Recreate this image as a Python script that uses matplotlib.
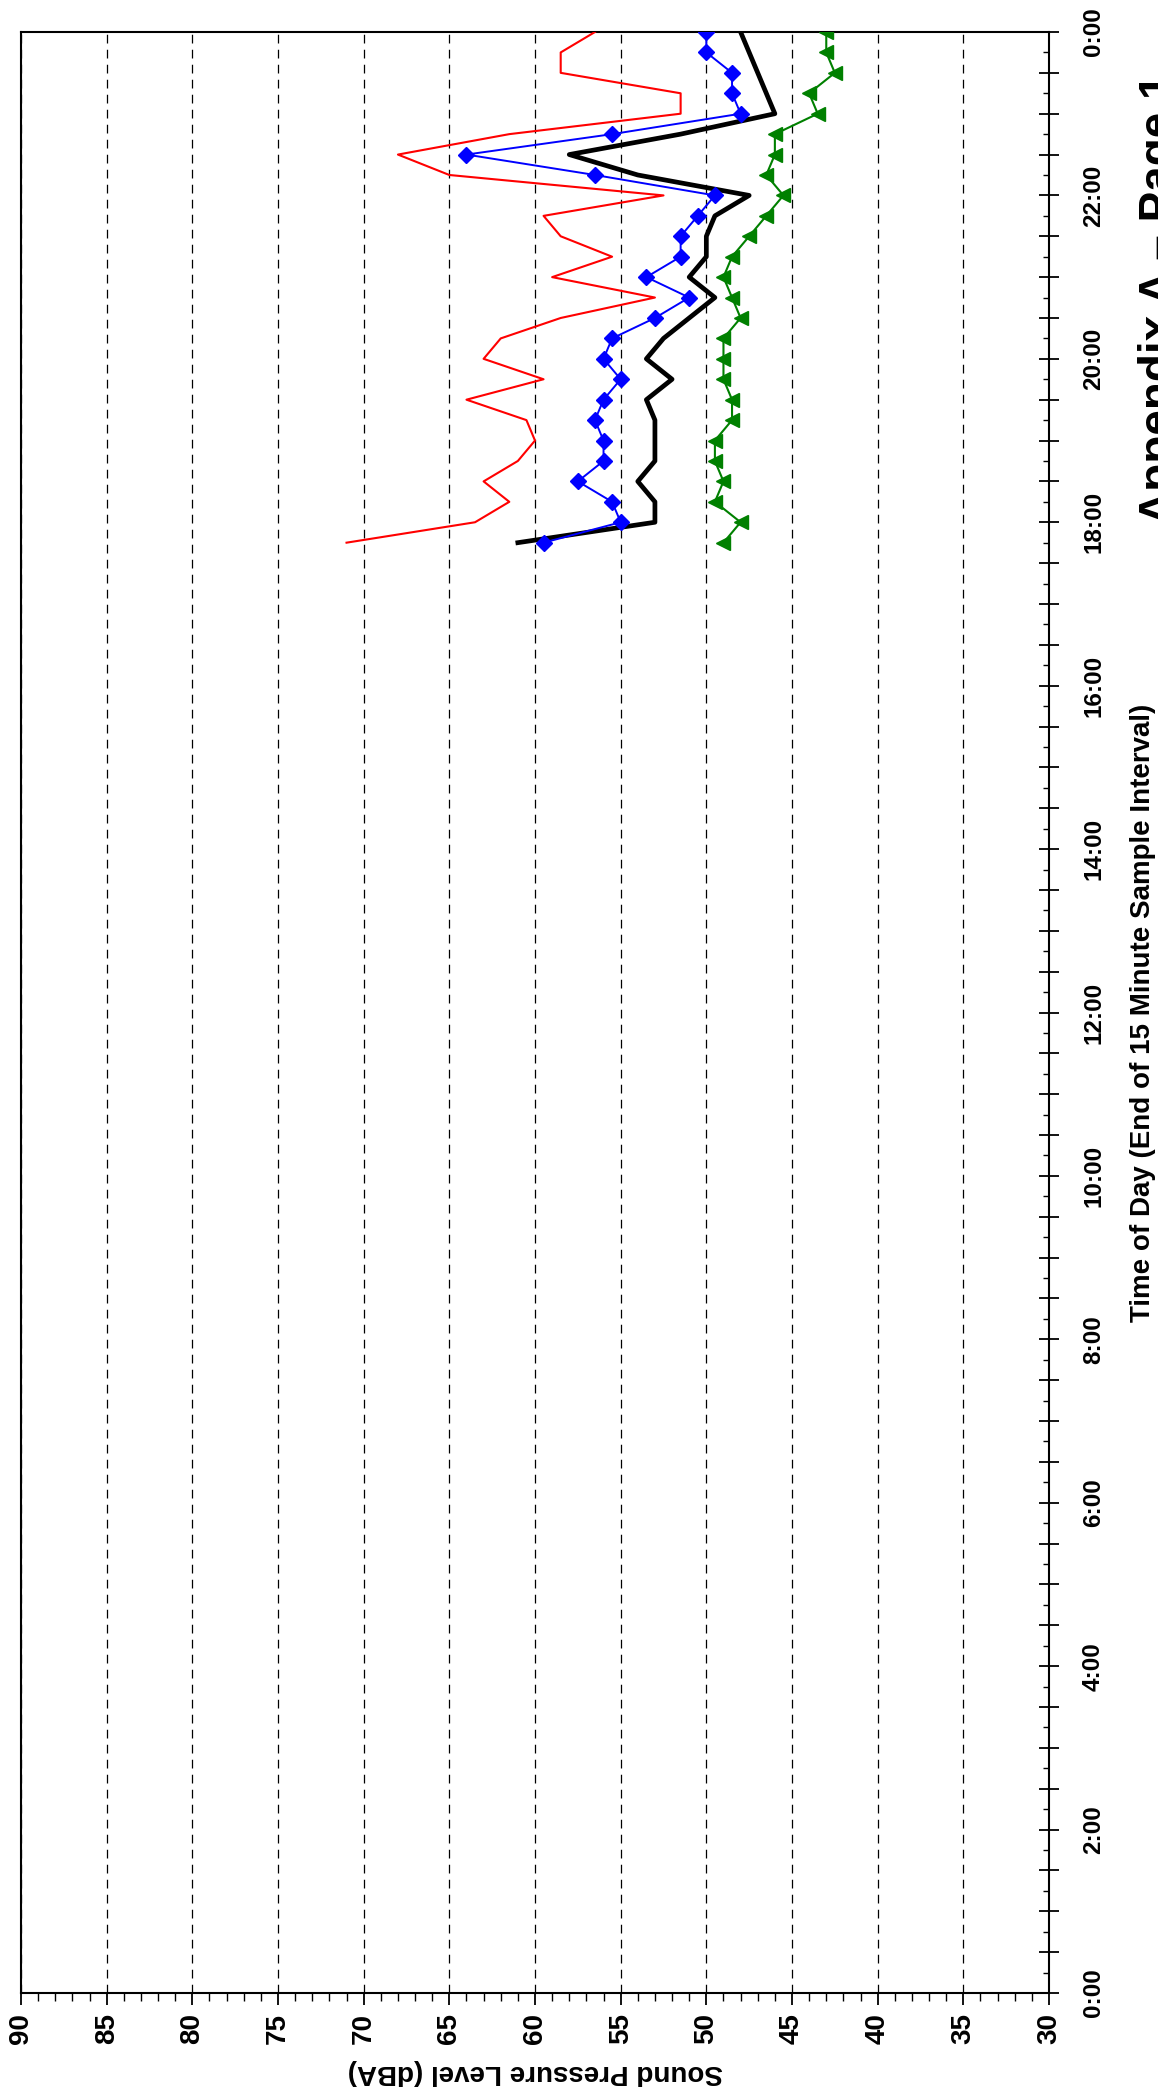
import matplotlib
matplotlib.use("Agg")
import matplotlib.pyplot as plt
from matplotlib.ticker import MultipleLocator, FuncFormatter

plt.rcParams['font.family'] = ['Liberation Sans', 'DejaVu Sans']
plt.rcParams['font.weight'] = 'bold'

# end of each 15 minute sample interval
times = ["17:45", "18:00", "18:15", "18:30", "18:45", "19:00", "19:15", "19:30",
         "19:45", "20:00", "20:15", "20:30", "20:45", "21:00", "21:15", "21:30",
         "21:45", "22:00", "22:15", "22:30", "22:45", "23:00", "23:15", "23:30",
         "23:45", "24:00"]

# sound levels in dBA
lmax = [71.0, 63.5, 61.5, 63.0, 61.0, 60.0, 60.5, 64.0, 59.5, 63.0, 62.0, 58.5, 53.0,
        59.0, 55.5, 58.5, 59.5, 52.5, 65.0, 68.0, 61.5, 51.5, 51.5, 58.5, 58.5, 56.5]
l10 = [59.5, 55.0, 55.5, 57.5, 56.0, 56.0, 56.5, 56.0, 55.0, 56.0, 55.5, 53.0, 51.0,
       53.5, 51.5, 51.5, 50.5, 49.5, 56.5, 64.0, 55.5, 48.0, 48.5, 48.5, 50.0, 50.0]
leq = [61.0, 53.0, 53.0, 54.0, 53.0, 53.0, 53.0, 53.5, 52.0, 53.5, 52.5, 51.0, 49.5,
       51.0, 50.0, 50.0, 49.5, 47.5, 54.0, 58.0, 51.5, 46.0, 46.5, 47.0, 47.5, 48.0]
l90 = [49.0, 48.0, 49.5, 49.0, 49.5, 49.5, 48.5, 48.5, 49.0, 49.0, 49.0, 48.0, 48.5,
       49.0, 48.5, 47.5, 46.5, 45.5, 46.5, 46.0, 46.0, 43.5, 44.0, 42.5, 43.0, 43.0]


def to_hours(s):
    h, m = s.split(':')
    return int(h) + int(m) / 60.0


hours = [to_hours(t) for t in times]

W, H = 1158, 2094
fig = plt.figure(figsize=(W / 100, H / 100), dpi=100)
# page is laid out sideways: dBA runs along the bottom, time of day up the right
ax = fig.add_axes([21 / W, 1 - 1993 / H, 1028 / W, 1961 / H])

ax.plot(leq, hours, color='black', lw=3.4, zorder=3)
ax.plot(lmax, hours, color='red', lw=1.5, zorder=3)
ax.plot(l10, hours, color='blue', lw=1.4, marker='D', ms=8, zorder=4)
ax.plot(l90, hours, color='green', lw=1.5, marker='<', ms=10.5, zorder=4)

ax.set_xlim(90, 30)
ax.set_ylim(0, 24)

ax.xaxis.set_major_locator(MultipleLocator(5))
ax.xaxis.set_minor_locator(MultipleLocator(1))
ax.tick_params(axis='x', which='major', direction='out', length=8.5, width=1.3,
               labelsize=20, pad=6, labelrotation=90)
ax.tick_params(axis='x', which='minor', direction='out', length=5.5, width=1)
ax.grid(axis='x', which='major', ls=(0, (7, 5)), color='black', lw=0.9)

ax.yaxis.tick_right()
ax.yaxis.set_major_locator(MultipleLocator(0.5))
ax.yaxis.set_minor_locator(MultipleLocator(0.25))


def hour_label(v, pos):
    if abs(v / 2 - round(v / 2)) < 1e-6:
        return "%d:00" % (int(round(v)) % 24)
    return ""


ax.yaxis.set_major_formatter(FuncFormatter(hour_label))
ax.tick_params(axis='y', which='major', direction='inout', length=13.7, width=1.3,
               labelsize=17.5, pad=17, labelrotation=90)
ax.tick_params(axis='y', which='minor', direction='in', length=4.3, width=1)
for lab in ax.get_yticklabels():
    lab.set_va('center')

for sp in ax.spines.values():
    sp.set_linewidth(1.5)

ax.set_xlabel("Sound Pressure Level (dBA)", fontsize=20, fontweight='bold', rotation=180)
ax.xaxis.label.set_va('center')
ax.xaxis.set_label_coords(0.5, -0.0403)

ax.yaxis.set_label_position('right')
ax.set_ylabel("Time of Day (End of 15 Minute Sample Interval)", fontsize=20,
              fontweight='bold', rotation=90)
ax.yaxis.label.set_va('center')
ax.yaxis.set_label_coords((1143 - 21) / 1028, 0.5)

fig.text(1138 / W, 1 - 299 / H, "Appendix A \u2013 Page 1", rotation=90, ha='left',
         va='center', fontsize=33, fontweight='bold')

fig.savefig("out.png", dpi=100)
